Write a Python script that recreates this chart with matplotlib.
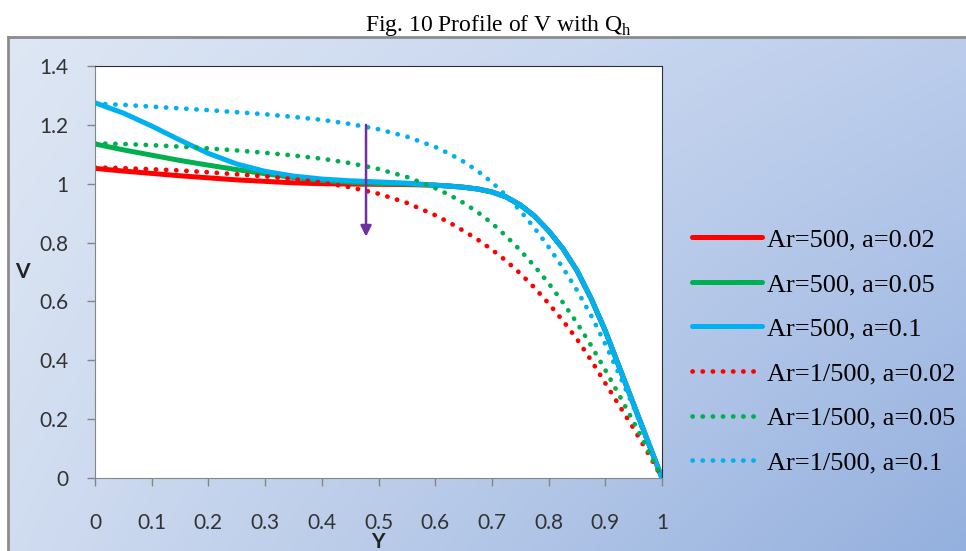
import numpy as np
import matplotlib
matplotlib.use('Agg')
import matplotlib.pyplot as plt

plt.rcParams['mathtext.fontset'] = 'custom'
plt.rcParams['mathtext.rm'] = 'Liberation Serif'

# data
ys = [0, 0.05, 0.1, 0.15, 0.2, 0.25, 0.3, 0.35, 0.4, 0.45, 0.5, 0.55,
      0.6, 0.625, 0.65, 0.675, 0.7, 0.725, 0.75, 0.775, 0.8, 0.825,
      0.85, 0.875, 0.9, 0.925, 0.95, 0.975, 1.0]

# common tail of the three Ar=500 curves (x >= 0.6)
tail_500 = [0.995, 0.992, 0.988, 0.982, 0.972, 0.955, 0.928, 0.89, 0.84,
            0.78, 0.705, 0.61, 0.50, 0.375, 0.25, 0.125, 0.0]

v_500_002 = [1.052, 1.043, 1.035, 1.027, 1.020, 1.013, 1.008, 1.003, 1.000,
             0.999, 0.998, 0.997] + tail_500
v_500_005 = [1.135, 1.115, 1.097, 1.079, 1.063, 1.048, 1.034, 1.021, 1.011,
             1.005, 1.001, 0.999] + tail_500
v_500_01 = [1.275, 1.240, 1.196, 1.148, 1.103, 1.067, 1.042, 1.026, 1.016,
            1.010, 1.006, 1.002] + tail_500

v_inv_002 = [1.055, 1.053, 1.049, 1.045, 1.039, 1.032, 1.025, 1.016, 1.004,
             0.988, 0.966, 0.935, 0.893, 0.868, 0.840, 0.810, 0.776, 0.738,
             0.695, 0.647, 0.593, 0.535, 0.472, 0.400, 0.322, 0.245, 0.168,
             0.086, 0.0]
v_inv_005 = [1.137, 1.135, 1.131, 1.126, 1.120, 1.113, 1.105, 1.096, 1.085,
             1.070, 1.050, 1.023, 0.985, 0.962, 0.935, 0.903, 0.866, 0.822,
             0.774, 0.720, 0.662, 0.597, 0.527, 0.450, 0.367, 0.280, 0.190,
             0.096, 0.0]
v_inv_01 = [1.272, 1.268, 1.262, 1.256, 1.250, 1.243, 1.236, 1.227, 1.217,
            1.203, 1.185, 1.160, 1.125, 1.102, 1.075, 1.043, 1.005, 0.960,
            0.908, 0.850, 0.785, 0.715, 0.638, 0.552, 0.455, 0.350, 0.240,
            0.122, 0.0]

labels = ['Ar=500, a=0.02', 'Ar=500, a=0.05', 'Ar=500, a=0.1',
          'Ar=1/500, a=0.02', 'Ar=1/500, a=0.05', 'Ar=1/500, a=0.1']
colors = ['#FF0000', '#00B050', '#00B0F0']

xticks = [0, 0.1, 0.2, 0.3, 0.4, 0.5, 0.6, 0.7, 0.8, 0.9, 1]
xtick_labels = ['0', '0.1', '0.2', '0.3', '0.4', '0.5', '0.6', '0.7', '0.8', '0.9', '1']
yticks = [0, 0.2, 0.4, 0.6, 0.8, 1.0, 1.2, 1.4]
ytick_labels = ['0', '0.2', '0.4', '0.6', '0.8', '1', '1.2', '1.4']

arrow_x = 0.478
arrow_from, arrow_to = 1.20, 0.82

W, H = 966, 551
fig = plt.figure(figsize=(W / 100, H / 100), dpi=100)

# gradient chart background
bg = fig.add_axes([8 / W, 0, 1 - 8 / W, 1 - 37 / H])
tl = np.array([222, 231, 244]) / 255
tr = np.array([188, 205, 236]) / 255
bl = np.array([208, 220, 240]) / 255
br = np.array([148, 176, 222]) / 255
u = np.linspace(0, 1, 300)[None, :, None]
v = np.linspace(0, 1, 150)[:, None, None]
img = (1 - u) * (1 - v) * tl + u * (1 - v) * tr + (1 - u) * v * bl + u * v * br
bg.imshow(img, aspect='auto', extent=[0, 1, 0, 1], interpolation='bilinear')
bg.set_xticks([])
bg.set_yticks([])
for s in ['right', 'bottom']:
    bg.spines[s].set_visible(False)
for s in ['left', 'top']:
    bg.spines[s].set_color('#8c8c8c')
    bg.spines[s].set_linewidth(2)

ax = fig.add_axes([95 / W, 1 - 478 / H, (662 - 95) / W, (478 - 66) / H])
ax.set_facecolor('white')

solid = [v_500_002, v_500_005, v_500_01]
dotted = [v_inv_002, v_inv_005, v_inv_01]
for i in range(3):
    ax.plot(ys, solid[i], color=colors[i], lw=3.6, label=labels[i],
            solid_capstyle='round', solid_joinstyle='round')
for i in range(3):
    ax.plot(ys, dotted[i], color=colors[i], lw=3.4, label=labels[i + 3],
            linestyle=(0, (0.05, 2.1)), dash_capstyle='round')

ax.annotate('', xy=(arrow_x, arrow_to), xytext=(arrow_x, arrow_from),
            arrowprops=dict(arrowstyle='-|>', color='#7030A0', lw=1.8,
                            mutation_scale=16, shrinkA=0, shrinkB=0))

ax.set_xlim(0, 1)
ax.set_ylim(0, 1.4)
ax.set_xticks(xticks)
ax.set_xticklabels(xtick_labels)
ax.set_yticks(yticks)
ax.set_yticklabels(ytick_labels)
ax.tick_params(axis='both', direction='out', length=6, width=1, color='#868686',
               labelsize=15, labelcolor='#333333')
ax.tick_params(axis='x', pad=19)
ax.tick_params(axis='y', pad=13)
for lab in ax.get_xticklabels() + ax.get_yticklabels():
    lab.set_fontfamily('Lato')
for s in ['left', 'bottom']:
    ax.spines[s].set_color('#868686')
for s in ['top', 'right']:
    ax.spines[s].set_color('#303030')

fig.text(22 / W, 1 - 272 / H, 'V', fontsize=15, fontweight='bold',
         family='Lato', ha='center', va='center', color='#222222')
fig.text(378 / W, 1 - 542 / H, 'Y', fontsize=15, fontweight='bold',
         family='Lato', ha='center', va='center', color='#222222')

fig.text(498 / W, 1 - 25 / H, 'Fig. 10 Profile of V with Q$_\\mathrm{h}$',
         fontsize=17, family='Liberation Serif', ha='center', va='center')

leg = fig.legend(loc='upper left', bbox_to_anchor=(692 / W, 1 - 228 / H),
                 frameon=False, borderpad=0, borderaxespad=0,
                 handlelength=2.65, handletextpad=0.2, labelspacing=0.8,
                 prop={'family': 'Liberation Serif', 'size': 19})

fig.savefig('out.png', dpi=100)
